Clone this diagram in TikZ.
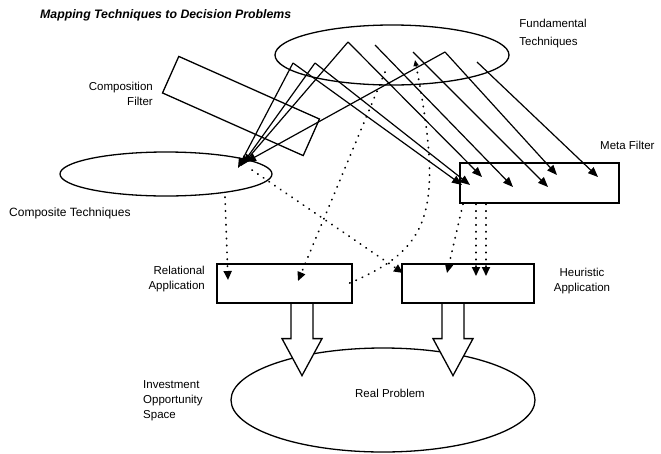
\documentclass[tikz,border=0pt]{standalone}
\usepackage{fontspec}
\setmainfont{Liberation Sans}
\usetikzlibrary{shapes.geometric,arrows.meta}

\begin{document}
\begin{tikzpicture}[x=1pt,y=-1pt,font=\fontsize{11.5}{15}\selectfont,
    oval/.style={ellipse,draw,line width=1.3pt,inner sep=0pt},
    box/.style={rectangle,draw,line width=1.3pt,inner sep=0pt},
    flow/.style={line width=1.2pt,-{Triangle[length=10pt,width=8pt]}},
    feed/.style={line width=1.8pt,line cap=round,dash pattern=on 0.4pt off 6.5pt,
      -{Triangle[length=9pt,width=8pt]}},
    hollow/.style={draw,line width=1.3pt,fill=white,line join=miter},
    caption/.style={inner sep=0pt}]
  \useasboundingbox (0,0) rectangle (661,453);

  \node[caption,anchor=west,font=\fontsize{12.3}{13}\selectfont\bfseries\itshape]
    (title) at (40,15) {Mapping Techniques to Decision Problems};

  \node[oval,minimum width=234pt,minimum height=60pt] (fund) at (392,55) {};
  \node[oval,minimum width=212pt,minimum height=44pt] (comp) at (166,174) {};
  \node[box,rotate=-24,minimum width=154pt,minimum height=40pt] (filter) at (241,106) {};
  \node[box,minimum width=159pt,minimum height=40pt] (meta) at (539.5,183) {};

  \node[caption,align=left,font=\fontsize{11.5}{18}\selectfont] (fundlbl) at (553,34)
    {Fundamental\\Techniques};
  \node[caption,align=right,anchor=east] (filterlbl) at (153,94) {Composition\\Filter};
  \node[caption,anchor=west,font=\fontsize{12}{15}\selectfont] (complbl) at (9,213)
    {Composite Techniques};
  \node[caption,anchor=west] (metalbl) at (600,145) {Meta Filter};

  % start and end points of the connectors
  \coordinate (fa) at (293,63);
  \coordinate (fb) at (315,63);
  \coordinate (fc) at (348,42);
  \coordinate (fd) at (375,45);
  \coordinate (fe) at (413,52);
  \coordinate (ff) at (445,52);
  \coordinate (fg) at (477,62);
  \coordinate (ca) at (238,168);
  \coordinate (cb) at (241,166);
  \coordinate (cc) at (243,164);
  \coordinate (cd) at (246,162);
  \coordinate (ma) at (462,185);
  \coordinate (mb) at (470,185);
  \coordinate (mc) at (482,177);
  \coordinate (md) at (513,187);
  \coordinate (me) at (548,187);
  \coordinate (mf) at (557,175);
  \coordinate (mg) at (598,177);

  \draw[flow] (fa)--(ca);
  \draw[flow] (fb)--(cb);
  \draw[flow] (fc)--(cc);
  \draw[flow] (ff)--(cd);
  \draw[flow] (fa)--(ma);
  \draw[flow] (fb)--(mb);
  \draw[flow] (fc)--(mc);
  \draw[flow] (fd)--(md);
  \draw[flow] (fe)--(me);
  \draw[flow] (ff)--(mf);
  \draw[flow] (fg)--(mg);

  \node[oval,minimum width=304pt,minimum height=104pt] (real) at (383,400) {};
  \node[caption] (reallbl) at (390,393) {Real Problem};

  % hollow arrows down to the real problem
  \draw[hollow] (302,303.6) ++(-11,0) -- ++(0,35) -- ++(-9,0) -- ++(20,37)
    -- ++(20,-37) -- ++(-9,0) -- ++(0,-35);
  \draw[hollow] (453,303.6) ++(-11,0) -- ++(0,35) -- ++(-9,0) -- ++(20,37)
    -- ++(20,-37) -- ++(-9,0) -- ++(0,-35);

  \node[box,minimum width=135pt,minimum height=39pt] (rel) at (284.5,283.5) {};
  \node[box,minimum width=132pt,minimum height=39pt] (heur) at (468,283.5) {};

  \node[caption,align=right,anchor=east] (rellbl) at (205,279) {Relational\\Application};
  \node[caption,align=center] (heurlbl) at (582,281) {Heuristic\\Application};
  \node[caption,align=left,anchor=west] (investlbl) at (143,401)
    {Investment\\Opportunity\\Space};

  % dotted links
  \coordinate (cs) at (225,197);
  \coordinate (ce) at (252,170);
  \coordinate (fs) at (415,60);
  \coordinate (fm) at (385,72);
  \coordinate (msa) at (463,204);
  \coordinate (msb) at (476,204);
  \coordinate (msc) at (486,204);
  \coordinate (ra) at (228,280);
  \coordinate (rb) at (298,281);
  \coordinate (rc) at (345,285);
  \coordinate (ha) at (403,273);
  \coordinate (hb) at (447,273);
  \coordinate (hc) at (476,276);
  \coordinate (hd) at (486,276);

  \draw[feed] (cs)--(ra);
  \draw[feed] (ce)--(ha);
  \draw[feed] (fm)--(rb);
  \draw[feed,{Triangle[length=6pt,width=5pt]}-] (fs) .. controls (445,215) and (430,250) .. (rc);
  \draw[feed] (msa)--(hb);
  \draw[feed] (msb)--(hc);
  \draw[feed] (msc)--(hd);
\end{tikzpicture}
\end{document}
